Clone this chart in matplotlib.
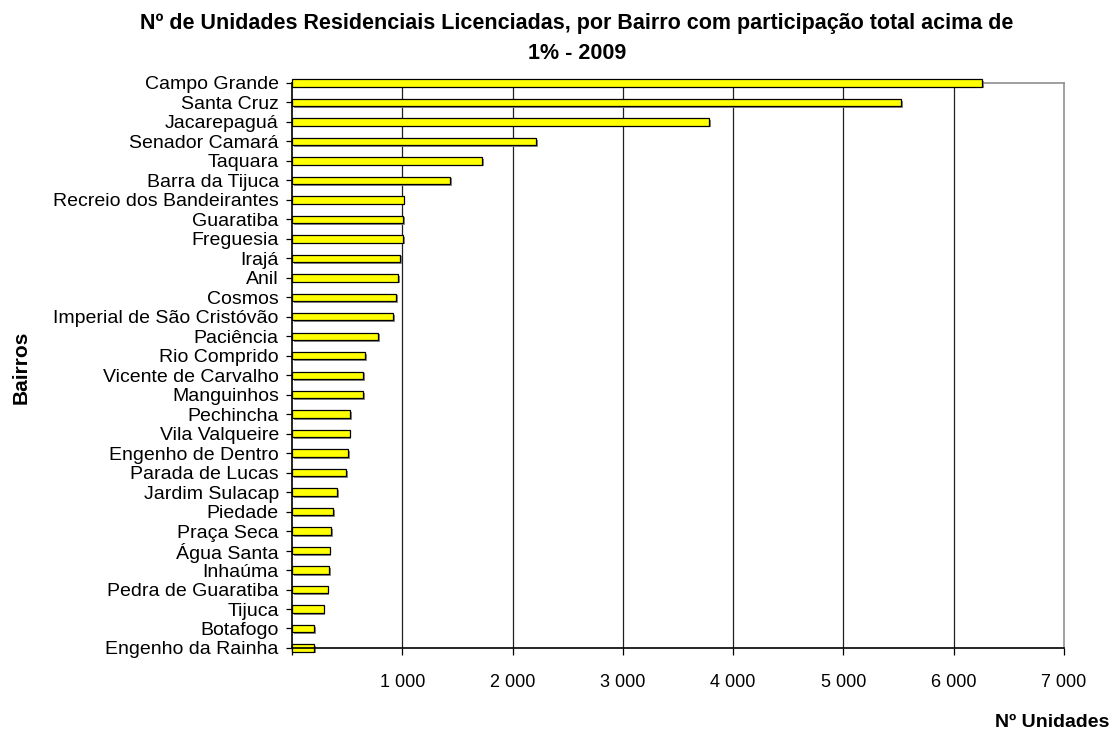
import matplotlib.pyplot as plt
import matplotlib.patheffects as pe
import numpy as np

bairros = [
    "Campo Grande", "Santa Cruz", "Jacarepaguá", "Senador Camará", "Taquara",
    "Barra da Tijuca", "Recreio dos Bandeirantes", "Guaratiba", "Freguesia",
    "Irajá", "Anil", "Cosmos", "Imperial de São Cristóvão", "Paciência",
    "Rio Comprido", "Vicente de Carvalho", "Manguinhos", "Pechincha",
    "Vila Valqueire", "Engenho de Dentro", "Parada de Lucas", "Jardim Sulacap",
    "Piedade", "Praça Seca", "Água Santa", "Inhaúma", "Pedra de Guaratiba",
    "Tijuca", "Botafogo", "Engenho da Rainha",
]
unidades = [
    6260, 5520, 3780, 2210, 1720, 1435, 1012, 1010, 1008, 979, 964, 946, 913,
    777, 659, 641, 641, 523, 522, 508, 493, 408, 375, 357, 340, 339, 323, 287,
    203, 202,
]
x_ticks = [0, 1000, 2000, 3000, 4000, 5000, 6000, 7000]
x_ticklabels = ["", "1 000", "2 000", "3 000", "4 000", "5 000", "6 000", "7 000"]

plt.rcParams["font.family"] = ["Liberation Sans", "DejaVu Sans"]

fig = plt.figure(figsize=(11.18, 7.35), dpi=100, facecolor="white")
ax = fig.add_axes([0.2612, 0.1184, 0.9517 - 0.2612, 0.8871 - 0.1184])

y_pos = np.arange(len(bairros))

# vertical grid behind bars
for t in x_ticks[1:-1]:
    ax.axvline(t, color="#202020", linewidth=0.9, zorder=1)

ax.barh(
    y_pos,
    unidades,
    height=0.38,
    color="#ffff00",
    edgecolor="black",
    linewidth=0.9,
    zorder=3,
    clip_on=False,
    path_effects=[
        pe.SimplePatchShadow(offset=(1.3, -1.3), shadow_rgbFace="#808080", alpha=0.9),
        pe.Normal(),
    ],
)

ax.set_xlim(0, 7000)
ax.set_ylim(len(bairros) - 1, 0)

ax.set_xticks(x_ticks)
ax.set_xticklabels(x_ticklabels, fontsize=13, color="black")
ax.set_yticks(y_pos)
ax.set_yticklabels(bairros, fontsize=14, color="black")
ax.tick_params(axis="x", length=5, width=0.9, pad=14, color="black")
ax.tick_params(axis="y", length=4.5, width=0.9, pad=5, color="black")

for side in ["top", "right"]:
    ax.spines[side].set_color("#909090")
    ax.spines[side].set_linewidth(1.2)
for side in ["left", "bottom"]:
    ax.spines[side].set_color("black")
    ax.spines[side].set_linewidth(1.2)
    ax.spines[side].set_zorder(4)

fig.text(
    0.516, 0.982,
    "Nº de Unidades Residenciais Licenciadas, por Bairro com participação total acima de\n1% - 2009",
    ha="center", va="top", fontsize=15.5, fontweight="bold", linespacing=1.55,
)
fig.text(0.019, 0.5, "Bairros", rotation=90, ha="center", va="center",
         fontsize=15, fontweight="bold")
fig.text(0.992, 0.006, "Nº Unidades", ha="right", va="bottom",
         fontsize=14, fontweight="bold")

fig.savefig("out.png", dpi=100, facecolor="white")
